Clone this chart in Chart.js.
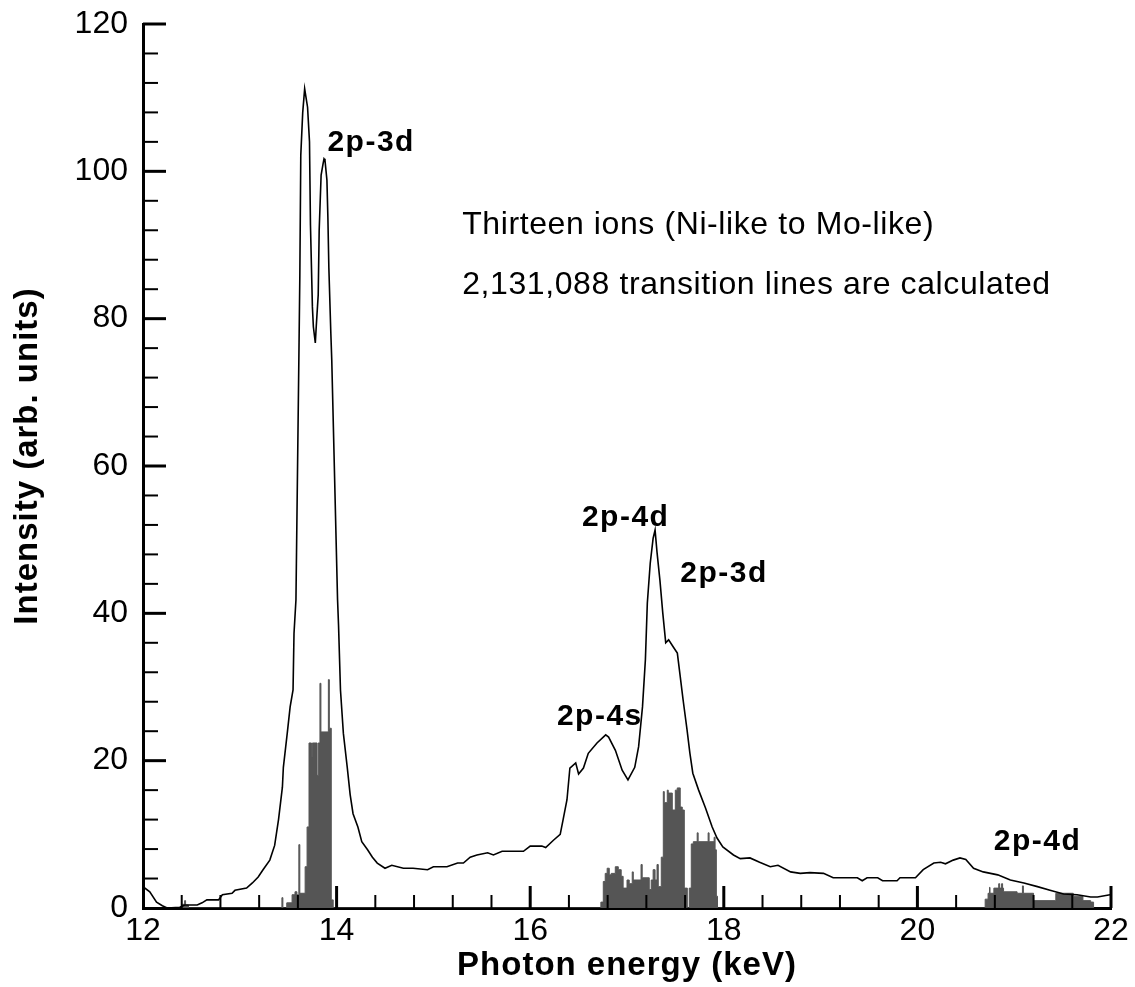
<!DOCTYPE html>
<html>
<head>
<meta charset="utf-8">
<script src="https://cdn.jsdelivr.net/npm/chart.js@4.4.0/dist/chart.umd.min.js"></script>
<style>
  html, body { margin: 0; padding: 0; background: #fff; }
  canvas { display: block; }
</style>
</head>
<body>
<canvas id="spectrum" width="1135" height="987"></canvas>
<script>
// Simulated spectrum (envelope)
const curveE = [
  12.00, 12.07, 12.14, 12.20, 12.25, 12.38, 12.43, 12.56, 12.61, 12.66,
  12.78, 12.82, 12.92, 12.95, 13.07, 13.13, 13.19, 13.24, 13.31, 13.36,
  13.40, 13.44, 13.45, 13.49, 13.52, 13.55, 13.56, 13.58, 13.61, 13.62,
  13.63, 13.65, 13.67, 13.70, 13.72, 13.73, 13.75, 13.76, 13.78, 13.79,
  13.81, 13.82, 13.84, 13.86, 13.87, 13.88, 13.90, 13.91, 13.92, 13.94,
  13.95, 14.01, 14.02, 14.04, 14.07, 14.11, 14.14, 14.17, 14.22, 14.26,
  14.32, 14.37, 14.42, 14.50, 14.57, 14.69, 14.79, 14.94, 15.00, 15.14,
  15.25, 15.31, 15.38, 15.45, 15.56, 15.62, 15.71, 15.93, 16.00, 16.12,
  16.16, 16.24, 16.31, 16.34, 16.38, 16.41, 16.47, 16.50, 16.55, 16.60,
  16.69, 16.78, 16.81, 16.88, 16.95, 17.01, 17.08, 17.12, 17.16, 17.19,
  17.21, 17.24, 17.27, 17.29, 17.31, 17.34, 17.37, 17.40, 17.43, 17.48,
  17.52, 17.55, 17.58, 17.62, 17.65, 17.68, 17.74, 17.81, 17.88, 17.93,
  17.99, 18.10, 18.17, 18.27, 18.37, 18.48, 18.56, 18.69, 18.79, 18.89,
  19.03, 19.13, 19.38, 19.43, 19.48, 19.59, 19.64, 19.79, 19.82, 19.98,
  20.06, 20.17, 20.24, 20.29, 20.37, 20.44, 20.50, 20.58, 20.68, 20.83,
  20.96, 21.10, 21.24, 21.37, 21.51, 21.65, 21.79, 21.86, 21.99
];
const curveI = [
  2.9, 2.2, 0.8, 0.3, 0.0, 0.1, 0.4, 0.4, 0.7, 1.1,
  1.1, 1.8, 2.0, 2.4, 2.7, 3.4, 4.2, 5.2, 6.5, 8.5,
  12.0, 16.4, 19.1, 23.7, 27.3, 29.6, 37.3, 41.8, 74.4, 85.6,
  102.2, 108.0, 111.2, 108.7, 104.0, 92.7, 81.6, 78.9, 76.7, 79.0,
  83.2, 92.0, 99.5, 101.0, 101.7, 101.5, 98.8, 93.7, 86.9, 78.2,
  74.4, 41.8, 38.4, 29.6, 23.7, 19.1, 15.4, 12.8, 11.0, 9.0,
  7.9, 6.9, 6.1, 5.4, 5.8, 5.4, 5.4, 5.2, 5.6, 5.6,
  6.1, 6.1, 6.9, 7.2, 7.5, 7.2, 7.7, 7.7, 8.4, 8.4,
  8.2, 9.2, 10.0, 12.0, 14.7, 19.0, 19.7, 18.2, 19.0, 21.0,
  22.4, 23.5, 23.2, 21.4, 18.7, 17.4, 19.1, 21.9, 27.3, 33.7,
  41.4, 46.8, 50.2, 51.3, 48.3, 44.5, 40.0, 36.0, 36.4, 35.4,
  34.6, 31.4, 28.2, 24.2, 21.0, 18.3, 16.0, 13.6, 11.0, 9.5,
  8.3, 7.2, 6.7, 6.8, 6.2, 5.6, 5.8, 4.9, 4.7, 4.8,
  4.7, 4.1, 4.1, 3.7, 4.1, 4.1, 3.7, 3.7, 4.1, 4.1,
  5.2, 6.1, 6.2, 6.0, 6.5, 6.8, 6.6, 5.4, 4.9, 4.5,
  3.8, 3.4, 2.9, 2.4, 1.9, 1.8, 1.5, 1.5, 1.8
];

// Calculated transition lines (stick spectrum): left edge of each step and its height
const stickE = [
  12.40, 12.43, 12.44, 12.47,
  13.435, 13.445, 13.485, 13.54, 13.57, 13.59, 13.61, 13.62, 13.675, 13.695,
  13.715, 13.74, 13.75, 13.798, 13.81, 13.828, 13.838, 13.915, 13.925, 13.945, 13.965,
  16.73, 16.755, 16.775, 16.795, 16.817, 16.837, 16.879, 16.91, 16.94, 16.96,
  17.00, 17.023, 17.054, 17.065, 17.145, 17.157, 17.23, 17.25, 17.27, 17.29,
  17.31, 17.323, 17.354, 17.375, 17.385, 17.416, 17.426, 17.468, 17.499, 17.519,
  17.55, 17.571, 17.592, 17.623, 17.643, 17.664, 17.685, 17.725, 17.735, 17.838,
  17.848, 17.90, 17.91, 17.923, 17.935,
  20.70, 20.73, 20.745, 20.75, 20.79, 20.84, 20.85, 20.87, 20.88, 20.89,
  21.03, 21.085, 21.095, 21.20, 21.43, 21.61, 21.71, 21.79, 21.82
];
const stickI = [
  0.5, 1.0, 0.4, 0,
  1.4, 0, 0.7, 1.8, 2.2, 1.8, 8.6, 2.0, 5.6, 11.0,
  22.4, 20.5, 22.4, 18.0, 22.4, 30.5, 23.9, 31.0, 24.4, 1.1, 0,
  0.8, 3.6, 4.7, 5.4, 4.5, 4.7, 5.6, 5.2, 4.3, 2.7,
  3.8, 3.3, 4.9, 3.8, 5.9, 4.1, 2.5, 3.8, 5.2, 3.8,
  5.9, 2.9, 6.9, 15.8, 14.3, 16.0, 15.6, 13.3, 16.0, 16.3,
  13.7, 13.3, 2.7, 0, 2.7, 8.7, 9.0, 10.2, 9.0, 10.2,
  9.0, 9.6, 7.9, 1.6, 0,
  1.2, 2.0, 2.8, 2.0, 2.7, 3.3, 2.7, 3.3, 2.7, 2.2,
  2.0, 3.0, 2.0, 1.0, 2.0, 1.6, 1.0, 0.8, 0
];

const xTickLabels = [12, 14, 16, 18, 20, 22];
const yTickLabels = [0, 20, 40, 60, 80, 100, 120];

const annotations = [
  { text: '2p-3d', e: 13.905, i: 102.7, bold: true },
  { text: 'Thirteen ions (Ni-like to Mo-like)', e: 15.297, i: 91.5, bold: false },
  { text: '2,131,088 transition lines are calculated', e: 15.297, i: 83.3, bold: false },
  { text: '2p-4d', e: 16.534, i: 51.8, bold: true },
  { text: '2p-3d', e: 17.55, i: 44.3, bold: true },
  { text: '2p-4s', e: 16.276, i: 24.8, bold: true },
  { text: '2p-4d', e: 20.789, i: 7.9, bold: true }
];

const FONT = "'Liberation Sans', Arial, sans-serif";
Chart.defaults.font.family = FONT;
Chart.defaults.color = '#000';

// inward tick marks, titles and peak labels
const axisDecor = {
  id: 'axisDecor',
  afterDatasetsDraw(chart) {
    const { ctx, chartArea: a, scales: { x, y } } = chart;
    ctx.save();
    ctx.strokeStyle = '#000';
    for (let k = 1; k <= 25; k++) {
      const major = k % 5 === 0;
      const px = x.getPixelForValue(12 + k * 0.4);
      ctx.lineWidth = major ? 3 : 2;
      ctx.beginPath();
      ctx.moveTo(px, a.bottom);
      ctx.lineTo(px, a.bottom - (major ? 22 : 13));
      ctx.stroke();
    }
    for (let k = 1; k <= 30; k++) {
      const major = k % 5 === 0;
      const py = y.getPixelForValue(k * 4);
      ctx.lineWidth = major ? 3 : 2;
      ctx.beginPath();
      ctx.moveTo(a.left, py);
      ctx.lineTo(a.left + (major ? 23 : 15), py);
      ctx.stroke();
    }
    ctx.restore();
  },
  afterDraw(chart) {
    const { ctx, chartArea: a, scales: { x, y } } = chart;
    ctx.save();
    ctx.fillStyle = '#000';
    ctx.textAlign = 'left';
    ctx.textBaseline = 'alphabetic';
    annotations.forEach(n => {
      ctx.font = (n.bold ? 'bold 30px ' : '32px ') + FONT;
      ctx.letterSpacing = n.bold ? '1.5px' : '0.6px';
      ctx.fillText(n.text, x.getPixelForValue(n.e), y.getPixelForValue(n.i));
    });

    // axis titles
    ctx.font = 'bold 33px ' + FONT;
    ctx.letterSpacing = '1px';
    ctx.textAlign = 'center';
    ctx.textBaseline = 'middle';
    ctx.fillText('Photon energy (keV)', (a.left + a.right) / 2, a.bottom + 58);
    ctx.translate(a.left - 115, (a.top + a.bottom) / 2 - 10);
    ctx.rotate(-Math.PI / 2);
    ctx.fillText('Intensity (arb. units)', 0, 0);
    ctx.restore();
  }
};

const ctx = document.getElementById('spectrum');
new Chart(ctx, {
  type: 'line',
  data: {
    datasets: [
      {
        label: 'Spectrum',
        data: curveE.map((e, k) => ({ x: e, y: curveI[k] })),
        borderColor: '#000',
        borderWidth: 1.6,
        pointRadius: 0,
        tension: 0,
        fill: false
      },
      {
        label: 'Transition lines',
        data: stickE.map((e, k) => ({ x: e, y: stickI[k] })),
        stepped: 'before',
        borderColor: '#555555',
        borderWidth: 1,
        backgroundColor: '#555555',
        pointRadius: 0,
        fill: 'origin'
      }
    ]
  },
  options: {
    responsive: false,
    animation: false,
    devicePixelRatio: 1,
    layout: { padding: { top: 24, right: 24, left: 0, bottom: 0 } },
    plugins: {
      legend: { display: false },
      tooltip: { enabled: false }
    },
    scales: {
      x: {
        type: 'linear',
        min: 12,
        max: 22,
        grid: { display: true, drawOnChartArea: false, drawTicks: false },
        border: { display: true, width: 3, color: '#000' },
        ticks: {
          font: { size: 32 },
          color: '#000',
          padding: 4,
          maxRotation: 0,
          autoSkip: false
        },
        afterBuildTicks: s => { s.ticks = xTickLabels.map(v => ({ value: v })); },
        afterFit: s => { s.height = 79; s.paddingLeft = 0; s.paddingRight = 0; }
      },
      y: {
        type: 'linear',
        min: 0,
        max: 120,
        grid: { display: true, drawOnChartArea: false, drawTicks: false },
        border: { display: true, width: 3, color: '#000' },
        ticks: {
          font: { size: 32 },
          color: '#000',
          padding: 15,
          autoSkip: false
        },
        afterBuildTicks: s => { s.ticks = yTickLabels.map(v => ({ value: v })); },
        afterFit: s => { s.width = 143; s.paddingTop = 0; s.paddingBottom = 0; }
      }
    }
  },
  plugins: [axisDecor]
});
</script>
</body>
</html>
